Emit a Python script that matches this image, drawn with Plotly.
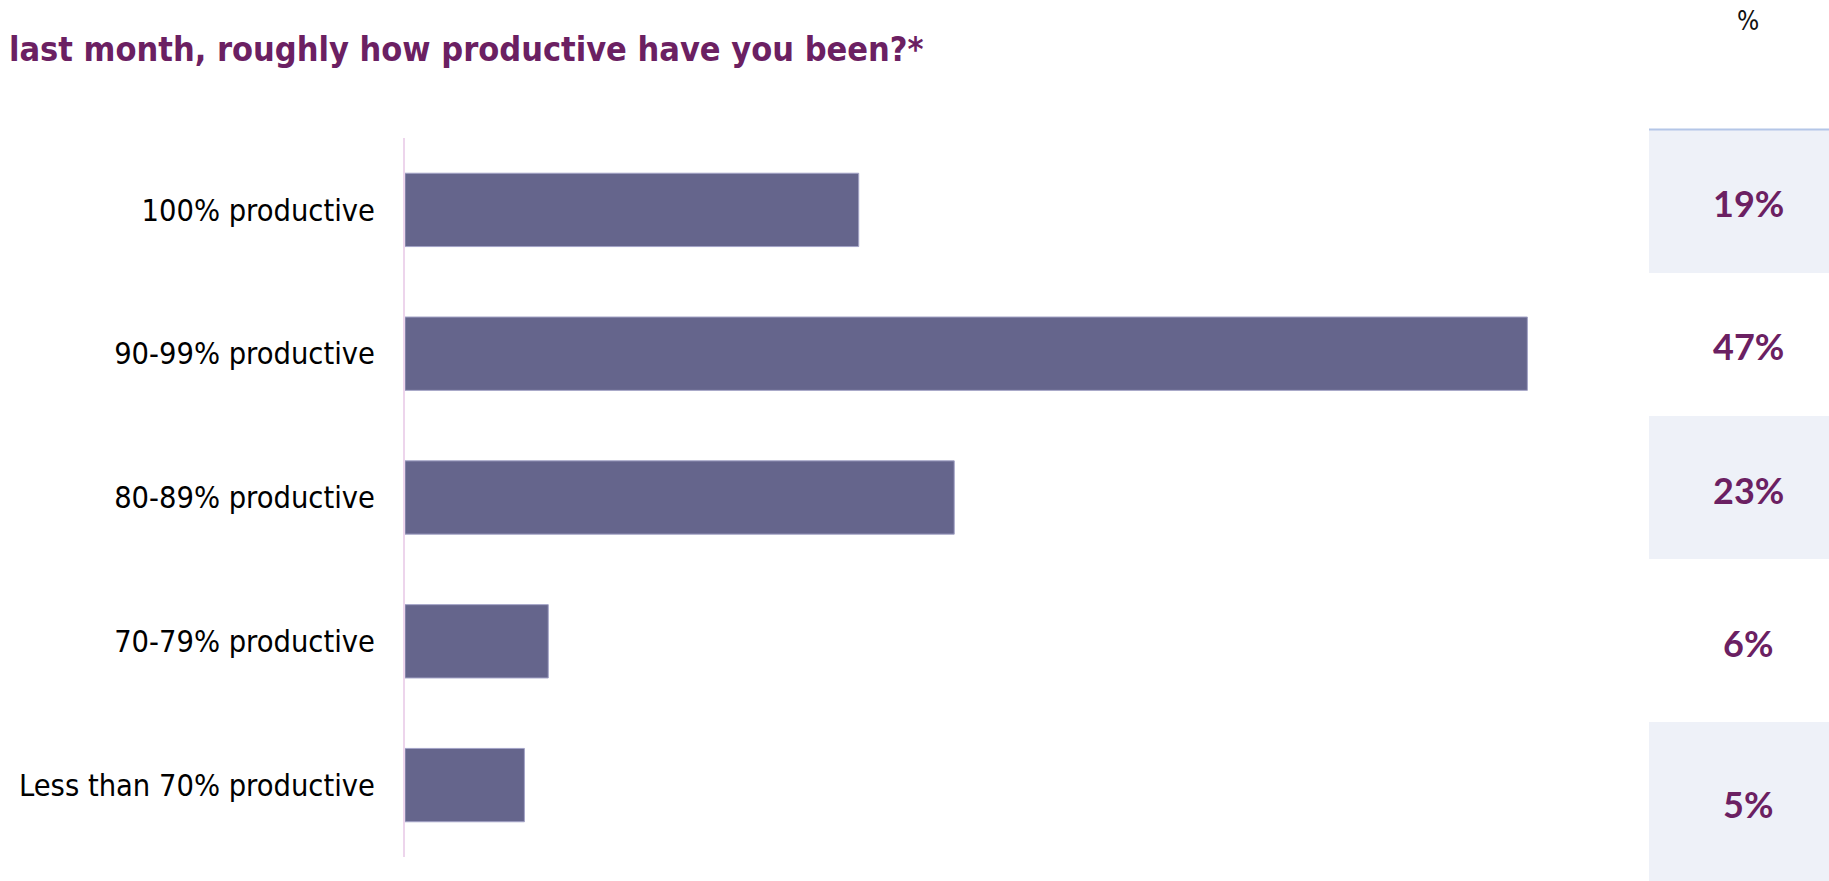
import plotly.graph_objects as go

# ---- data ----
categories = ["100% productive", "90-99% productive", "80-89% productive",
              "70-79% productive", "Less than 70% productive"]
values = [19, 47, 23, 6, 5]
value_labels = ["19%", "47%", "23%", "6%", "5%"]
title_text = "last month, roughly how productive have you been?*"
panel_header = "%"

# ---- layout constants (pixels of the 1829x881 canvas) ----
W, H = 1829, 881
PLOT_L, PLOT_T, PLOT_B = 405, 138, 857
PX_PER_PCT = 23.88
X_MAX = 50
PANEL_L = 1649
PANEL_ROWS = [130, 273, 416, 559, 722, 881]
SHADED = [0, 2, 4]

BAR_COLOR = "#65658C"
PURPLE = "#6B2062"

def px(x):
    return x / W

def py(y):
    return (H - y) / H

fig = go.Figure()
fig.add_trace(go.Bar(
    x=values, y=categories, orientation="h",
    marker=dict(color=BAR_COLOR, line=dict(color="#A3A3C6", width=1)),
    hoverinfo="x+y", showlegend=False,
))

shapes = []
annotations = []
for i in SHADED:
    shapes.append(dict(type="rect", xref="paper", yref="paper",
                       x0=px(PANEL_L), x1=1.0, y0=py(PANEL_ROWS[i + 1]), y1=py(PANEL_ROWS[i]),
                       fillcolor="#EEF1F8", line=dict(width=0), layer="below"))
shapes.append(dict(type="line", xref="paper", yref="paper",
                   x0=px(PANEL_L), x1=1.0, y0=py(PANEL_ROWS[0] - 0.5), y1=py(PANEL_ROWS[0] - 0.5),
                   line=dict(color="#B4C6E7", width=2)))

for i, lab in enumerate(value_labels):
    yc = (PANEL_ROWS[i] + PANEL_ROWS[i + 1]) / 2 + 2
    annotations.append(dict(text=lab, xref="paper", yref="paper",
                            x=px(1748), y=py(yc), xanchor="center", yanchor="middle",
                            showarrow=False,
                            font=dict(family="Lato, sans-serif",
                                      size=36, color=PURPLE, weight="bold")))

annotations.append(dict(text=panel_header, xref="paper", yref="paper",
                        x=px(1748), y=py(21), xanchor="center", yanchor="middle",
                        showarrow=False,
                        font=dict(family="DejaVu Sans Condensed, sans-serif", size=26, color="#111111")))

annotations.append(dict(text=title_text, xref="paper", yref="paper",
                        x=px(7), y=py(49), xanchor="left", yanchor="middle",
                        showarrow=False,
                        font=dict(family="DejaVu Sans Condensed, sans-serif", size=34,
                                  color=PURPLE, weight="bold")))

fig.update_layout(
    width=W, height=H,
    margin=dict(l=0, r=0, t=0, b=0),
    paper_bgcolor="white", plot_bgcolor="white",
    bargap=0.49,
    shapes=shapes, annotations=annotations,
    xaxis=dict(domain=[px(PLOT_L), px(PLOT_L + X_MAX * PX_PER_PCT)], range=[0, X_MAX],
               visible=False, showgrid=False, zeroline=False, fixedrange=True),
    yaxis=dict(domain=[py(PLOT_B), py(PLOT_T)], range=[4.5, -0.5], type="category",
               categoryorder="array", categoryarray=categories,
               showline=True, linecolor="#EDD5EC", linewidth=2,
               showgrid=False, zeroline=False, ticks="", automargin=False,
               ticklabelstandoff=22,
               tickfont=dict(family="DejaVu Sans Condensed, sans-serif", size=30.5, color="#000000")),
)

fig.write_html("out.html")
